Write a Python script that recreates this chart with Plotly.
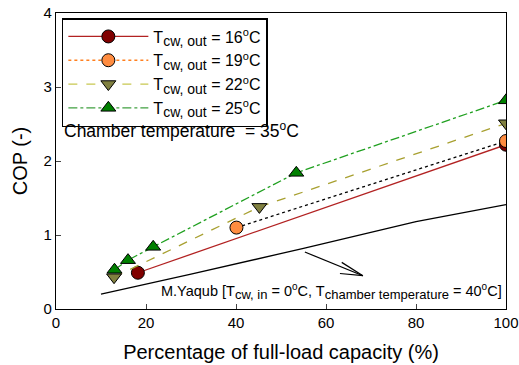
import plotly.graph_objects as go

# Data
x16 = [18.2, 100]
y16 = [0.49, 2.22]
x19 = [40.1, 100]
y19 = [1.10, 2.27]
x22 = [12.9, 45.2, 100]
y22 = [0.43, 1.38, 2.51]
x25 = [13.0, 16.0, 21.6, 53.4, 100]
y25 = [0.53, 0.66, 0.84, 1.84, 2.82]
xyaq = [10, 30, 55, 80, 100]
yyaq = [0.20, 0.47, 0.82, 1.18, 1.41]
temps = ["16", "19", "22", "25"]
xticks = [0, 20, 40, 60, 80, 100]
yticks = [0, 1, 2, 3, 4]

def sub(t, px):
    return "<sub><span style='font-size:%dpx'>%s</span></sub>" % (px, t)

def sup(t, px):
    return "<sup><span style='font-size:%dpx'>%s</span></sup>" % (px, t)

names = ["T" + sub("cw, out", 14) + " = " + t + sup("o", 11) + "C" for t in temps]

FONT = "Liberation Sans, Arial, sans-serif"
fig = go.Figure()

series = [
    (x16, y16, "#b22222", "#b22222", "solid", "circle", "#800000", 13),
    (x19, y19, "#ff8020", "black", "dot", "circle", "#ff8c40", 13),
    (x22, y22, "#c8c850", "#a8a030", "dash", "triangle-down", "#808040", 13),
    (x25, y25, "#40a040", "#20a020", "dashdot", "triangle-up", "#008000", 13),
]

# Yaqub line
fig.add_trace(go.Scatter(x=xyaq, y=yyaq, mode="lines", line=dict(color="black", width=1.3),
                         showlegend=False, hoverinfo="skip"))

for (xs, ys, lcol_leg, lcol, dash, sym, mcol, msz), nm in zip(series, names):
    fig.add_trace(go.Scatter(x=xs, y=ys, mode="lines+markers",
                             line=dict(color=lcol, width=1.3, dash=dash),
                             marker=dict(symbol=sym, size=msz, color=mcol,
                                         line=dict(color="black", width=1)),
                             showlegend=False))
    fig.add_trace(go.Scatter(x=[None], y=[None], mode="lines+markers", name=nm,
                             line=dict(color=lcol_leg, width=1.3, dash=dash),
                             marker=dict(symbol=sym, size=msz, color=mcol,
                                         line=dict(color="black", width=1))))

# arrow (open head)
arrow_tail = (55.3, 0.77)
arrow_tip = (68.2, 0.45)
wing1 = (63.5, 0.63)
wing2 = (63.1, 0.48)
for a, b in [(arrow_tail, arrow_tip), (wing1, arrow_tip), (wing2, arrow_tip)]:
    fig.add_shape(type="line", x0=a[0], y0=a[1], x1=b[0], y1=b[1], xref="x", yref="y",
                  line=dict(color="black", width=1.2))

fig.add_annotation(x=0.013, y=0.605, xref="paper", yref="paper", xanchor="left", yanchor="middle",
                   text="Chamber temperature  = 35" + sup("o", 12) + "C", showarrow=False,
                   font=dict(size=17.5, color="black", family=FONT))
fig.add_annotation(x=0.995, y=0.06, xref="paper", yref="paper", xanchor="right", yanchor="middle",
                   text="M.Yaqub [T" + sub("cw, in", 13) + " = 0" + sup("o", 10) + "C, T"
                        + sub("chamber temperature", 13) + " = 40" + sup("o", 10) + "C]",
                   showarrow=False, font=dict(size=14.5, color="black", family=FONT))

fig.update_layout(
    width=519, height=365, margin=dict(l=56, r=13, t=13, b=56),
    plot_bgcolor="white", paper_bgcolor="white",
    font=dict(family=FONT, size=15, color="black"),
    legend=dict(x=0.013, y=0.983, xanchor="left", yanchor="top", bordercolor="black",
                borderwidth=1.5, bgcolor="white", font=dict(size=16, family=FONT),
                itemwidth=80, tracegroupgap=2),
    xaxis=dict(range=[0, 100], tickvals=xticks, ticks="inside", ticklen=5, showgrid=False,
               zeroline=False, showline=True, linecolor="black", linewidth=1.3, mirror=True,
               automargin=False,
               title=dict(text="Percentage of full-load capacity (%)", font=dict(size=20), standoff=14),
               tickfont=dict(size=15)),
    yaxis=dict(range=[0, 4], tickvals=yticks, ticks="inside", ticklen=5, showgrid=False,
               zeroline=False, showline=True, linecolor="black", linewidth=1.3, mirror=True,
               automargin=False,
               title=dict(text="COP (-)", font=dict(size=20), standoff=10),
               tickfont=dict(size=15)),
)

fig.write_html("out.html")
